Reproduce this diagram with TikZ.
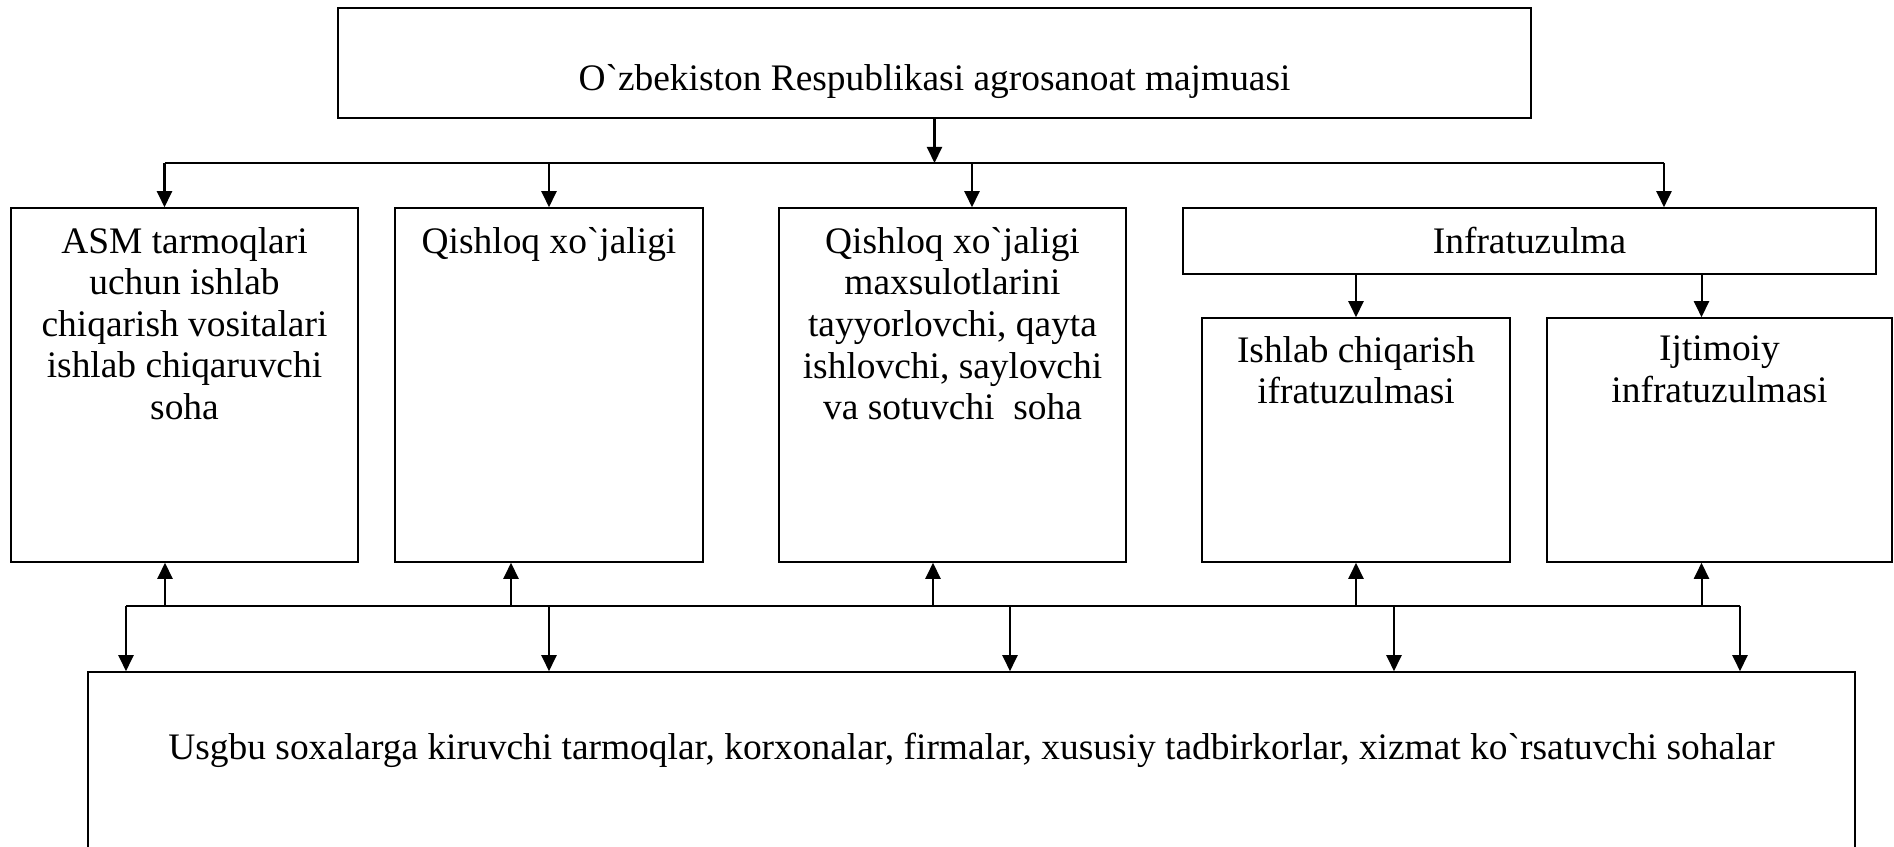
\documentclass[tikz,border=0pt]{standalone}
\usepackage{fontspec}
\setmainfont{Liberation Serif}[Ligatures=TeXOff]
\usetikzlibrary{arrows.meta, positioning}

\begin{document}
\begin{tikzpicture}[
    x=0.02cm, y=-0.02cm,
    box/.style = {draw, line width=0.9pt, inner sep=0pt},
    txt/.style = {inner sep=0pt, align=center, font=\fontsize{21.3}{23.7}\selectfont},
    arrow/.style = {-{Triangle[length=0.32cm, width=0.3cm]}, line width=1.15pt},
    bus/.style = {line width=1.15pt}
  ]
  \clip (0,0) rectangle (1894,847);

  % Top block
  \node[box, minimum width=23.86cm, minimum height=2.2cm] (agro) at (934.5,63) {};
  \node[txt, anchor=base] (agroT) at ([yshift=-0.56cm]agro.center) {O`zbekiston Respublikasi agrosanoat majmuasi};

  % Branches
  \node[box, minimum width=6.94cm, minimum height=7.08cm] (asm) at (184.5,385) {};
  \node[txt, below=0.39cm of asm.north] (asmT) {ASM tarmoqlari\\ uchun ishlab\\ chiqarish vositalari\\ ishlab chiqaruvchi\\ soha};

  \node[box, minimum width=6.16cm, minimum height=7.08cm] (qx) at (549,385) {};
  \node[txt, below=0.39cm of qx.north] (qxT) {Qishloq xo`jaligi};

  \node[box, minimum width=6.94cm, minimum height=7.08cm] (qxm) at (952.5,385) {};
  \node[txt, below=0.39cm of qxm.north] (qxmT) {Qishloq xo`jaligi\\ maxsulotlarini\\ tayyorlovchi, qayta\\ ishlovchi, saylovchi\\ va sotuvchi\ \ soha};

  \node[box, txt, minimum width=13.86cm, minimum height=1.32cm] (infra) at (1529.5,241) {Infratuzulma};

  \node[box, minimum width=6.16cm, minimum height=4.88cm] (ishl) at (1356,440) {};
  \node[txt, below=0.37cm of ishl.north] (ishlT) {Ishlab chiqarish\\ ifratuzulmasi};

  \node[box, minimum width=6.9cm, minimum height=4.88cm] (ijt) at (1719.5,440) {};
  \node[txt, below=0.37cm of ijt.north] (ijtT) {Ijtimoiy\\ infratuzulmasi};

  % Bottom block
  \node[box, minimum width=35.34cm, minimum height=4cm] (firms) at (971.5,772) {};
  \node[txt, anchor=base] (firmsT) at ([yshift=-1.76cm]firms.north) {Usgbu soxalarga kiruvchi tarmoqlar, korxonalar, firmalar, xususiy tadbirkorlar, xizmat ko`rsatuvchi sohalar};

  % Top bus
  \coordinate (tbus) at (934.5,163);
  \draw[arrow] (agro.south) -- (tbus);
  \draw[bus] ([xshift=-0.4cm]asm.north |- tbus) -- ([xshift=2.69cm]infra.north |- tbus);
  \draw[arrow] ([xshift=-0.4cm]asm.north |- tbus) -- ([xshift=-0.4cm]asm.north);
  \draw[arrow] (qx.north |- tbus) -- (qx.north);
  \draw[arrow] ([xshift=0.39cm]qxm.north |- tbus) -- ([xshift=0.39cm]qxm.north);
  \draw[arrow] ([xshift=2.69cm]infra.north |- tbus) -- ([xshift=2.69cm]infra.north);

  % Infrastructure split
  \draw[arrow] (ishl.north |- infra.south) -- (ishl.north);
  \draw[arrow] ([xshift=-0.36cm]ijt.north |- infra.south) -- ([xshift=-0.36cm]ijt.north);

  % Bottom bus
  \coordinate (bbus) at (126,606);
  \draw[bus] (bbus) -- ([xshift=0.41cm]ijt.south |- bbus);
  % up into branches
  \draw[arrow] ([xshift=-0.39cm]asm.south |- bbus) -- ([xshift=-0.39cm]asm.south);
  \draw[arrow] ([xshift=-0.76cm]qx.south |- bbus) -- ([xshift=-0.76cm]qx.south);
  \draw[arrow] ([xshift=-0.39cm]qxm.south |- bbus) -- ([xshift=-0.39cm]qxm.south);
  \draw[arrow] (ishl.south |- bbus) -- (ishl.south);
  \draw[arrow] ([xshift=-0.36cm]ijt.south |- bbus) -- ([xshift=-0.36cm]ijt.south);
  % down into bottom block
  \draw[arrow] (bbus) -- (bbus |- firms.north);
  \draw[arrow] (qx.south |- bbus) -- (qx.south |- firms.north);
  \draw[arrow] ([xshift=1.15cm]qxm.south |- bbus) -- ([xshift=1.15cm]qxm.south |- firms.north);
  \draw[arrow] ([xshift=0.76cm]ishl.south |- bbus) -- ([xshift=0.76cm]ishl.south |- firms.north);
  \draw[arrow] ([xshift=0.41cm]ijt.south |- bbus) -- ([xshift=0.41cm]ijt.south |- firms.north);
\end{tikzpicture}
\end{document}
